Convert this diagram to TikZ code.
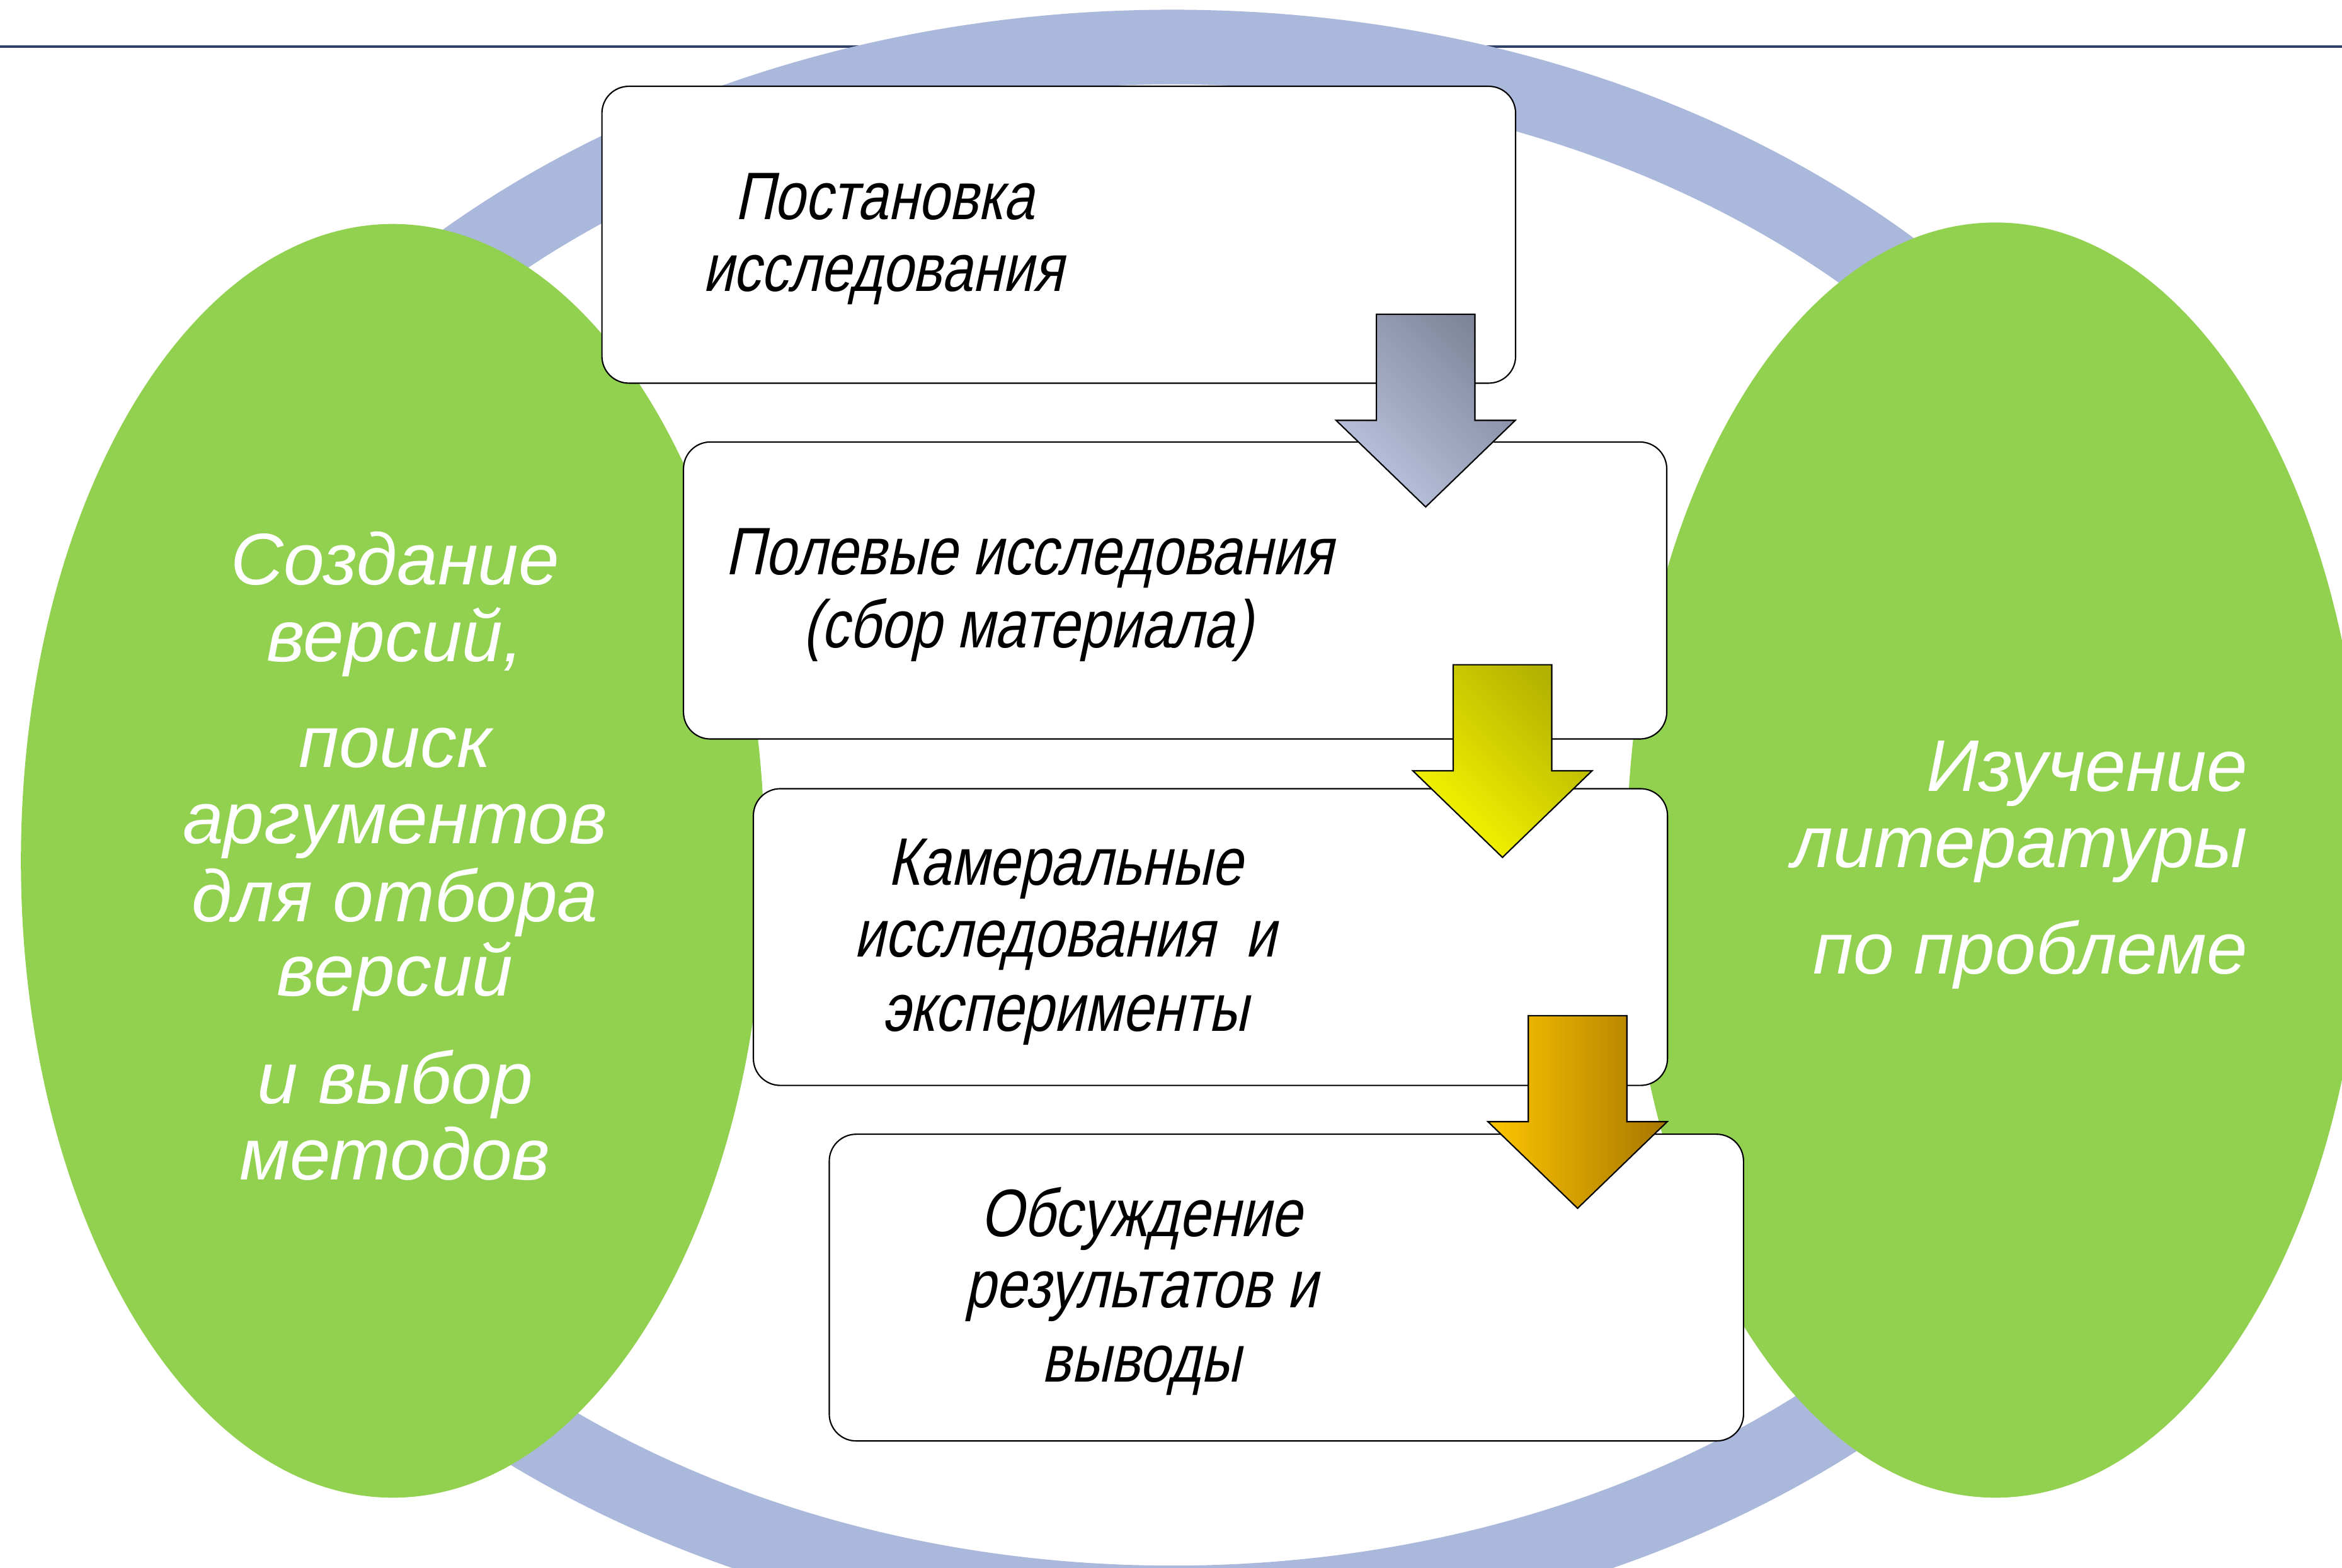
\documentclass[tikz,border=0pt]{standalone}
\usepackage{fontspec}
\setmainfont{Liberation Sans}
\newfontfamily\boxfont[FakeSlant=0.21,FakeStretch=0.82]{Liberation Sans}
\usetikzlibrary{shapes.geometric}
\definecolor{ringblue}{RGB}{170,184,219}
\definecolor{leafgreen}{RGB}{146,208,80}
\definecolor{navyline}{RGB}{47,66,102}
\definecolor{aonelight}{RGB}{188,196,224}
\definecolor{aonedark}{RGB}{127,134,155}
\definecolor{atwolight}{RGB}{248,248,0}
\definecolor{atwodark}{RGB}{178,176,0}
\definecolor{athreelight}{RGB}{255,198,0}
\definecolor{athreedark}{RGB}{166,118,0}
\begin{document}
\begin{tikzpicture}[x=1pt,y=-1pt,
  stepbox/.style={draw=black, line width=0.9pt, fill=white, rounded corners=18pt, inner sep=0pt},
  greenell/.style={ellipse, fill=leafgreen, inner sep=0pt},
  boxtext/.style={font=\boxfont\fontsize{45}{48}\selectfont, anchor=base, inner sep=0pt},
  greentext/.style={font=\itshape\fontsize{49}{52}\selectfont, text=white, anchor=base, inner sep=0pt},
  righttext/.style={greentext, anchor=base east},
  blockarrow/.style={draw=black, line width=0.9pt, line join=miter}]
\useasboundingbox (0,0) rectangle (1568,1049.7);
\clip (0,0) rectangle (1568,1049.7);
% top rule
\draw[navyline, line width=1.6pt] (0,31.1) -- (1568,31.1);
% ring
\fill[ringblue, even odd rule] (785,552.5) ellipse [x radius=715pt, y radius=546pt]
                               (785,552.5) ellipse [x radius=655pt, y radius=496pt];
% green ellipses
\node (leftell) [greenell, minimum width=498pt, minimum height=853pt] at (263,576.5) {};
\node (rightell) [greenell, minimum width=494pt, minimum height=854pt] at (1336,576) {};
% boxes
\node (b1) [stepbox, minimum width=611.7pt, minimum height=198.8pt] at (708.85,157.2) {};
\node (b2) [stepbox, minimum width=658.3pt, minimum height=198.9pt] at (786.75,395.45) {};
\node (b3) [stepbox, minimum width=612pt, minimum height=198.7pt] at (810.4,627.55) {};
\node (b4) [stepbox, minimum width=612.1pt, minimum height=205.4pt] at (861.25,862.3) {};
% box texts
\node (t1a) [boxtext] at (592,146.9) {Постановка};
\node (t1b) [boxtext] at (591,194.9) {исследования};
\node (t2a) [boxtext] at (689,385) {Полевые исследования};
\node (t2b) [boxtext] at (688,433.7) {(сбор материала)};
\node (t3a) [boxtext] at (713,592.7) {Камеральные};
\node (t3b) [boxtext] at (713,641) {исследования~~и};
\node (t3c) [boxtext] at (713,690.4) {эксперименты};
\node (t4a) [boxtext] at (764,828) {Обсуждение};
\node (t4b) [boxtext] at (764,875.9) {результатов и};
\node (t4c) [boxtext] at (764,925.6) {выводы};
% green texts left
\node (l1) [greentext] at (264.5,391.5) {Создание};
\node (l2) [greentext] at (264.5,443) {версий,};
\node (l3) [greentext] at (264.5,514) {поиск};
\node (l4) [greentext] at (264.5,565) {аргументов};
\node (l5) [greentext] at (264.5,617) {для отбора};
\node (l6) [greentext] at (264.5,667) {версий};
\node (l7) [greentext] at (264.5,739) {и выбор};
\node (l8) [greentext] at (264.5,790) {методов};
% green texts right
\node (r1) [righttext] at (1505,530) {Изучение};
\node (r2) [righttext] at (1505,581) {литературы};
\node (r3) [righttext] at (1505,652) {по проблеме};
% block arrows
\coordinate (a1) at (954.5,210.5);
\coordinate (a2) at (1005.9,445.2);
\coordinate (a3) at (1056.2,680.2);
\path[blockarrow, top color=aonedark, bottom color=aonelight, shading angle=-45, shift={(a1)}]
  (-33,0) -- (33,0) -- (33,71) -- (60,71) -- (0,129) -- (-60,71) -- (-33,71) -- cycle;
\path[blockarrow, top color=atwodark, bottom color=atwolight, shading angle=-45, shift={(a2)}]
  (-33,0) -- (33,0) -- (33,71) -- (60,71) -- (0,129) -- (-60,71) -- (-33,71) -- cycle;
\path[blockarrow, left color=athreelight, right color=athreedark, shift={(a3)}]
  (-33,0) -- (33,0) -- (33,71) -- (60,71) -- (0,129) -- (-60,71) -- (-33,71) -- cycle;
\end{tikzpicture}
\end{document}
